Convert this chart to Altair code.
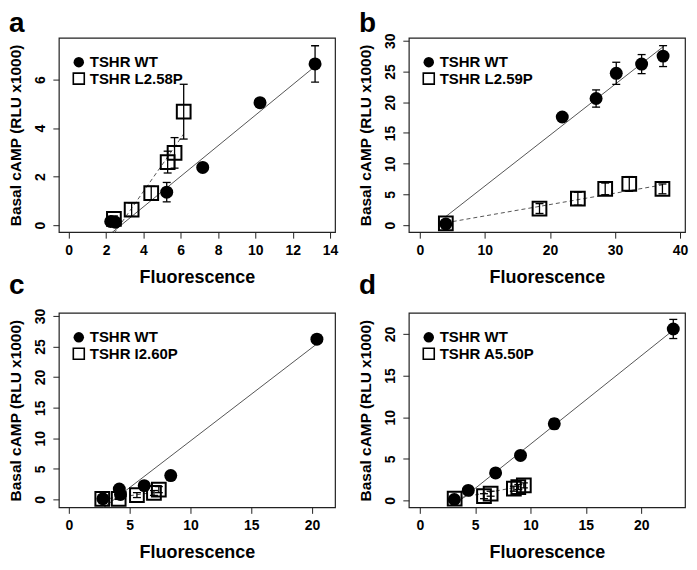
import altair as alt
import pandas as pd

FONT = "Liberation Sans"
XTITLE = "Fluorescence"
YTITLE = "Basal cAMP (RLU x1000)"
WT_LABEL = "TSHR WT"

# ---------------- panel a ----------------
a_mut_label = "TSHR L2.58P"
a_wt_x = [2.25, 2.5, 5.25, 7.18, 10.25, 13.2]
a_wt_y = [0.15, 0.12, 1.36, 2.38, 5.05, 6.65]
a_wt_err = [0.05, 0.05, 0.4, 0.1, 0.1, 0.75]
a_mut_x = [2.42, 3.37, 4.42, 5.3, 5.67, 6.16]
a_mut_y = [0.26, 0.64, 1.32, 2.6, 2.98, 4.68]
a_mut_err = [0.12, 0.28, 0.28, 0.45, 0.63, 1.13]
a_wt_fit_x = [2.25, 13.2]
a_wt_fit_y = [-0.35, 6.55]
a_mut_fit_x = [2.42, 6.16]
a_mut_fit_y = [-0.35, 3.76]
a_xdomain = [-0.53, 14.27]
a_ydomain = [-0.29, 7.73]
a_xticks = [0, 2, 4, 6, 8, 10, 12, 14]
a_yticks = [0, 2, 4, 6]

# ---------------- panel b ----------------
b_mut_label = "TSHR L2.59P"
b_wt_x = [4.0, 21.9, 27.1, 30.2, 34.1, 37.4]
b_wt_y = [0.2, 17.6, 20.6, 24.7, 26.2, 27.5]
b_wt_err = [0.2, 0.3, 1.4, 1.8, 1.55, 1.7]
b_mut_x = [4.0, 18.4, 24.3, 28.5, 32.2, 37.3]
b_mut_y = [0.3, 2.7, 4.3, 5.9, 6.7, 5.9]
b_mut_err = [0.2, 0.8, 1.05, 0.95, 1.2, 0.8]
b_wt_fit_x = [4.0, 37.5]
b_wt_fit_y = [1.4, 29.1]
b_mut_fit_x = [4.0, 37.3]
b_mut_fit_y = [0.39, 6.55]
b_xdomain = [-1.69, 40.77]
b_ydomain = [-1.14, 30.49]
b_xticks = [0, 10, 20, 30, 40]
b_yticks = [0, 5, 10, 15, 20, 25, 30]

# ---------------- panel c ----------------
c_mut_label = "TSHR I2.60P"
c_wt_x = [2.8, 4.15, 4.25, 6.2, 8.38, 20.4]
c_wt_y = [0.1, 1.7, 0.8, 2.25, 3.9, 26.2]
c_wt_err = [0.1, 0.2, 0.2, 0.2, 0.3, 0.3]
c_mut_x = [2.75, 4.1, 5.6, 7.0, 7.4]
c_mut_y = [0.1, 0.1, 0.7, 1.05, 1.6]
c_mut_err = [0.1, 0.1, 0.4, 0.4, 0.5]
c_wt_fit_x = [2.8, 20.4]
c_wt_fit_y = [-1.43, 25.43]
c_mut_fit_x = [2.75, 7.4]
c_mut_fit_y = [0.0, 1.25]
c_xdomain = [-0.82, 21.89]
c_ydomain = [-1.30, 30.49]
c_xticks = [0, 5, 10, 15, 20]
c_yticks = [0, 5, 10, 15, 20, 25, 30]

# ---------------- panel d ----------------
d_mut_label = "TSHR A5.50P"
d_wt_x = [3.12, 4.38, 6.85, 9.1, 12.15, 22.9]
d_wt_y = [0.1, 1.2, 3.3, 5.4, 9.2, 20.6]
d_wt_err = [0.1, 0.1, 0.15, 0.2, 0.6, 1.15]
d_mut_x = [3.15, 5.8, 6.4, 8.5, 8.9, 9.4]
d_mut_y = [0.2, 0.5, 0.8, 1.4, 1.6, 1.8]
d_mut_err = [0.1, 0.3, 0.3, 0.3, 0.3, 0.3]
d_wt_fit_x = [3.12, 22.9]
d_wt_fit_y = [-0.56, 20.46]
d_mut_fit_x = [3.15, 9.4]
d_mut_fit_y = [0.2, 1.75]
d_xdomain = [-0.99, 23.96]
d_ydomain = [-0.84, 22.53]
d_xticks = [0, 5, 10, 15, 20]
d_yticks = [0, 5, 10, 15, 20]

W, H = 277, 195


def panel(letter, letter_y, mut_label, wt_x, wt_y, wt_err, mut_x, mut_y, mut_err,
          wt_fx, wt_fy, mut_fx, mut_fy, xdom, ydom, xticks, yticks):
    xs = alt.Scale(domain=xdom, nice=False, zero=False)
    ys = alt.Scale(domain=ydom, nice=False, zero=False)
    xax = alt.Axis(values=xticks, title=XTITLE)
    yax = alt.Axis(values=yticks, title=YTITLE)

    def X(f):
        return alt.X(f, scale=xs, axis=xax)

    def Y(f):
        return alt.Y(f, scale=ys, axis=yax)

    wt = pd.DataFrame({"x": wt_x, "y": wt_y,
                       "lo": [v - e for v, e in zip(wt_y, wt_err)],
                       "hi": [v + e for v, e in zip(wt_y, wt_err)]})
    mut = pd.DataFrame({"x": mut_x, "y": mut_y,
                        "lo": [v - e for v, e in zip(mut_y, mut_err)],
                        "hi": [v + e for v, e in zip(mut_y, mut_err)]})
    allp = pd.concat([wt, mut], ignore_index=True)
    wt_fit = pd.DataFrame({"x": wt_fx, "y": wt_fy})
    mut_fit = pd.DataFrame({"x": mut_fx, "y": mut_fy})

    solid = alt.Chart(wt_fit).mark_line(clip=True, color="#555555", strokeWidth=1).encode(
        x=X("x:Q"), y=Y("y:Q"))
    dashed = alt.Chart(mut_fit).mark_line(clip=True, color="#555555", strokeWidth=1,
                                          strokeDash=[4, 3]).encode(x=X("x:Q"), y=Y("y:Q"))
    squares = alt.Chart(mut).mark_point(shape="square", filled=False, size=190,
                                        strokeWidth=2, color="black", opacity=1).encode(
        x=X("x:Q"), y=Y("y:Q"))
    circles = alt.Chart(wt).mark_point(shape="circle", filled=True, size=169,
                                       color="black", opacity=1).encode(
        x=X("x:Q"), y=Y("y:Q"))
    rules = alt.Chart(allp).mark_rule(color="black", strokeWidth=1.3).encode(
        x=X("x:Q"), y=Y("lo:Q"), y2="hi:Q")
    cap_lo = alt.Chart(allp).mark_tick(orient="horizontal", size=8, thickness=1.3,
                                       color="black", opacity=1).encode(
        x=X("x:Q"), y=Y("lo:Q"))
    cap_hi = alt.Chart(allp).mark_tick(orient="horizontal", size=8, thickness=1.3,
                                       color="black", opacity=1).encode(
        x=X("x:Q"), y=Y("hi:Q"))

    leg = pd.DataFrame({"t": [WT_LABEL, mut_label]})
    leg_c = alt.Chart(leg.iloc[[0]]).mark_point(shape="circle", filled=True, size=110,
                                                color="black", opacity=1).encode(
        x=alt.value(20), y=alt.value(24.5))
    leg_s = alt.Chart(leg.iloc[[1]]).mark_point(shape="square", filled=False, size=121,
                                                strokeWidth=1.6, color="black", opacity=1).encode(
        x=alt.value(20), y=alt.value(41))
    leg_t1 = alt.Chart(leg.iloc[[0]]).mark_text(align="left", baseline="middle", font=FONT,
                                                fontSize=15, fontWeight="bold", color="black").encode(
        x=alt.value(31), y=alt.value(24.5), text="t:N")
    leg_t2 = alt.Chart(leg.iloc[[1]]).mark_text(align="left", baseline="middle", font=FONT,
                                                fontSize=15, fontWeight="bold", color="black").encode(
        x=alt.value(31), y=alt.value(41), text="t:N")
    lab = alt.Chart(pd.DataFrame({"t": [letter]})).mark_text(
        align="left", baseline="alphabetic", font=FONT, fontSize=28, fontWeight="bold",
        color="black").encode(x=alt.value(-50), y=alt.value(letter_y), text="t:N")

    return alt.layer(solid, dashed, squares, circles, rules, cap_lo, cap_hi,
                     leg_c, leg_s, leg_t1, leg_t2, lab).properties(width=W, height=H)


pa = panel("a", -6, a_mut_label, a_wt_x, a_wt_y, a_wt_err, a_mut_x, a_mut_y, a_mut_err,
           a_wt_fit_x, a_wt_fit_y, a_mut_fit_x, a_mut_fit_y, a_xdomain, a_ydomain, a_xticks, a_yticks)
pb = panel("b", -6, b_mut_label, b_wt_x, b_wt_y, b_wt_err, b_mut_x, b_mut_y, b_mut_err,
           b_wt_fit_x, b_wt_fit_y, b_mut_fit_x, b_mut_fit_y, b_xdomain, b_ydomain, b_xticks, b_yticks)
pc = panel("c", -19, c_mut_label, c_wt_x, c_wt_y, c_wt_err, c_mut_x, c_mut_y, c_mut_err,
           c_wt_fit_x, c_wt_fit_y, c_mut_fit_x, c_mut_fit_y, c_xdomain, c_ydomain, c_xticks, c_yticks)
pd_ = panel("d", -19, d_mut_label, d_wt_x, d_wt_y, d_wt_err, d_mut_x, d_mut_y, d_mut_err,
            d_wt_fit_x, d_wt_fit_y, d_mut_fit_x, d_mut_fit_y, d_xdomain, d_ydomain, d_xticks, d_yticks)

chart = alt.concat(
    pa, pb, pc, pd_, columns=2, spacing={"row": 81, "column": 74}, bounds="flush"
).resolve_scale(
    x="independent", y="independent"
).properties(
    padding={"left": 0, "top": 0, "right": 0, "bottom": 0}
).configure_view(
    stroke="#222222", strokeWidth=1.2
).configure_axis(
    labelFont=FONT, labelFontSize=14, labelFontWeight="bold", labelColor="black",
    titleFont=FONT, titleFontWeight="bold", titleColor="black",
    tickColor="#222222", tickSize=6, tickWidth=1, domain=False, grid=False, labelPadding=5
).configure_axisY(
    labelAngle=270, labelAlign="center", labelBaseline="bottom",
    titleFontSize=15.5, titleAngle=270, titleX=-38, titleBaseline="alphabetic", titleAlign="center"
).configure_axisX(
    titleFontSize=18, titleY=50, titleBaseline="alphabetic"
)

chart.save("out.html", embed_options={"renderer": "svg", "actions": False})
